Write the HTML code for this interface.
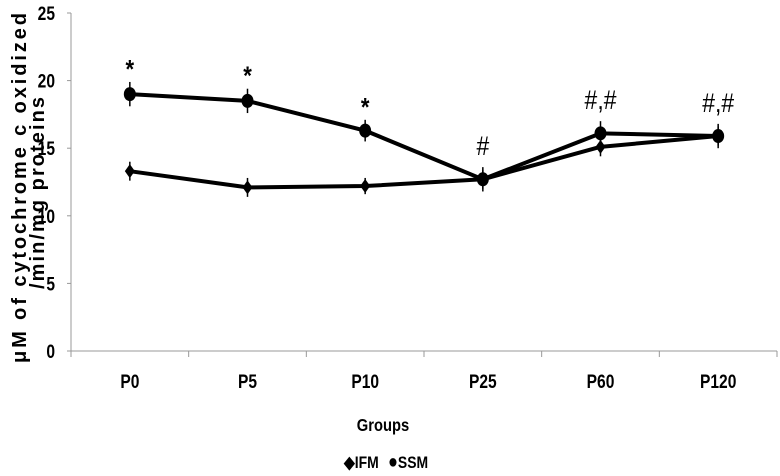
<!DOCTYPE html>
<html><head><meta charset="utf-8"><style>
html,body{margin:0;padding:0;background:#fff}
svg{display:block;font-family:"Liberation Sans",Arial,sans-serif;font-weight:bold}
</style></head><body>
<svg id="chart" width="780" height="476" viewBox="0 0 780 476" xmlns="http://www.w3.org/2000/svg">
<g id="axes"></g>
<g id="marks"></g>
<text transform="translate(26,188) rotate(-90)" text-anchor="middle" font-size="20" textLength="350" lengthAdjust="spacing">μM of cytochrome c oxidized</text>
<text transform="translate(44,193) rotate(-90)" text-anchor="middle" font-size="20" textLength="192" lengthAdjust="spacing">/min/mg proteins</text>
<text transform="translate(383,431) scale(0.82,1)" text-anchor="middle" font-size="18">Groups</text>
<g>
<text transform="translate(344,468) scale(0.82,1)" font-size="17">◆IFM</text>
<text transform="translate(388,468) scale(0.82,1)" font-size="17"><tspan font-size="20">●</tspan>SSM</text>
</g>
</svg>
<script>
const categories = ["P0","P5","P10","P25","P60","P120"];
const ifmValues = [13.3, 12.1, 12.2, 12.7, 15.1, 15.9];
const ssmValues = [19.0, 18.5, 16.3, 12.7, 16.1, 15.9];
const ifmErr = [0.7, 0.7, 0.6, 0.7, 0.7, 0.7];
const ssmErr = [0.9, 0.9, 0.8, 0.9, 0.9, 0.9];
const annotations = ["*","*","*","#","#,#","#,#"];
const yTicks = [0,5,10,15,20,25];

const NS="http://www.w3.org/2000/svg";
const x0=71,x1=777,yTop=13,yBot=351,yMax=25;
const band=(x1-x0)/categories.length;
const xs=i=>x0+band*(i+0.5);
const ys=v=>yBot-(v/yMax)*(yBot-yTop);
function mk(tag,attrs,parent){const e=document.createElementNS(NS,tag);for(const k in attrs)e.setAttribute(k,attrs[k]);parent.appendChild(e);return e;}
const axes=document.getElementById('axes'),marks=document.getElementById('marks');
let e=mk('line',{x1:x0,y1:yTop,x2:x0,y2:yBot,stroke:'#999','stroke-width':1},axes);


e=mk('line',{x1:x0-4,y1:yBot,x2:x1,y2:yBot,stroke:'#999','stroke-width':1},axes);


yTicks.forEach(t=>{
  const y=ys(t);
  let l=mk('line',{x1:x0-4,y1:y,x2:x0,y2:y,stroke:'#999'},axes);
  
  
  let tx=mk('text',{transform:`translate(${x0-16},${y+7}) scale(0.82,1)`,'text-anchor':'end','font-size':19},axes);
  tx.textContent=t;
  
  
});
for(let i=0;i<=categories.length;i++){
  const x=x0+band*i;
  let l=mk('line',{x1:x,y1:yBot,x2:x,y2:yBot+6,stroke:'#999'},axes);
  
  
}
categories.forEach((c,i)=>{
  let tx=mk('text',{transform:`translate(${xs(i)},388) scale(0.82,1)`,'text-anchor':'middle','font-size':19},axes);
  tx.textContent=c;
  
  
});
function series(vals,errs,name,marker){
  const g=mk('g',{},marks);
  
  
  const p=mk('polyline',{points:vals.map((v,i)=>xs(i)+','+ys(v)).join(' '),fill:'none',stroke:'#000','stroke-width':4,'stroke-linejoin':'round'},g);
  
  
  vals.forEach((v,i)=>{
    const x=xs(i),y=ys(v);
    const eb=mk('line',{x1:x,y1:ys(v+errs[i]),x2:x,y2:ys(v-errs[i]),stroke:'#000','stroke-width':1.5},g);
    
    
    let m;
    if(marker==='circle'){m=mk('ellipse',{cx:x,cy:y,rx:6,ry:7,fill:'#000'},g);}
    else{m=mk('polygon',{points:`${x},${y-7} ${x+5},${y} ${x},${y+7} ${x-5},${y}`,fill:'#000'},g);}
    
    
  });
}
series(ifmValues,ifmErr,'ifm','diamond');
series(ssmValues,ssmErr,'ssm','circle');
annotations.forEach((a,i)=>{
  const top=Math.max(ssmValues[i]+ssmErr[i],ifmValues[i]+ifmErr[i]);
  const isStar=a==='*';
  const tx=mk('text',{transform:`translate(${xs(i)},${ys(top)-(isStar?4:12)}) scale(0.85,1)`,'text-anchor':'middle','font-size':isStar?26:27,'font-weight':isStar?'bold':'normal'},marks);
  tx.textContent=a;
  
  
});
</script>
</body></html>
